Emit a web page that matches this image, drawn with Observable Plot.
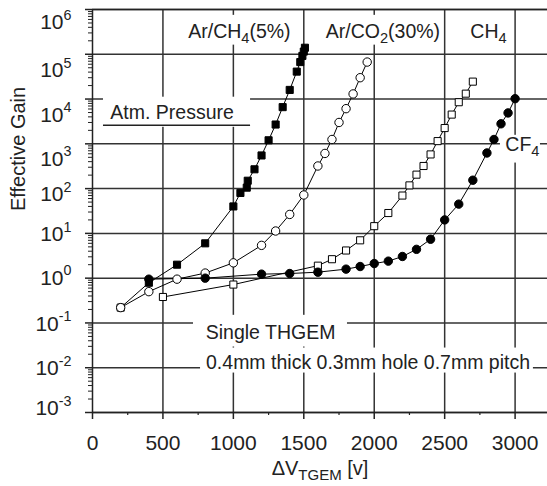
<!DOCTYPE html>
<html><head><meta charset="utf-8">
<script src="https://cdn.jsdelivr.net/npm/d3@7"></script>
<script src="https://cdn.jsdelivr.net/npm/@observablehq/plot@0.6"></script>
<style>
html,body{margin:0;padding:0;background:#fff}
</style>
</head><body><div id="chart"></div>
<script>
// ---- data (voltage [V], effective gain) ----
const startPoint = [[200, 0.22]];
const arCH4 = [[200,0.22],[400,0.79],[600,2.0],[800,6.0],[1000,40],[1050,80],[1095,105],[1102,150],[1150,270],[1200,550],[1250,1200],[1300,2700],[1350,6600],[1400,16000],[1450,41000],[1475,67000],[1490,92000],[1500,115000],[1508,140000]];
const arCO2 = [[200,0.22],[400,0.5],[600,0.95],[800,1.3],[1000,2.2],[1200,5.4],[1300,11.3],[1400,26.5],[1500,72],[1600,320],[1650,610],[1700,1250],[1750,3000],[1800,6100],[1850,13000],[1900,30000],[1950,67000]];
const ch4 = [[500,0.38],[1000,0.72],[1600,1.9],[1700,2.65],[1800,4.15],[1900,7.0],[2000,14.5],[2100,28.5],[2200,70],[2250,118],[2300,205],[2350,320],[2400,580],[2450,1150],[2500,2250],[2550,4500],[2600,8500],[2650,13200],[2700,24500]];
const cf4 = [[400,0.95],[800,1.0],[1200,1.23],[1400,1.27],[1600,1.36],[1800,1.59],[1900,1.82],[2000,2.12],[2100,2.4],[2200,3.05],[2300,4.4],[2400,7.4],[2500,20],[2600,45],[2700,154],[2800,625],[2850,1250],[2900,2800],[2950,4900],[3000,10200]];

// ---- ticks ----
const xTicks = [0,500,1000,1500,2000,2500,3000];
const xMinor = [250,750,1250,1750,2250,2750];
const xGrid = [500,1000,1500,2000,2500,3000];
const yTicks = [1e-3,1e-2,1e-1,1e0,1e1,1e2,1e3,1e4,1e5,1e6];
const yMinor = yTicks.slice(0,-1).flatMap(d => [2,3,4,5,6,7,8,9].map(k => d*k));
// vertical drift of the printed y tick labels in the original figure (px), by exponent
const yLabelDrift = {"6": 13, "5": 16, "4": 16, "3": 15, "2": 6, "1": 1, "0": 0, "-1": 1, "-2": 1, "-3": -4};

// ---- annotations ----
const labels = [
  {text: "Ar/CH_{4}(5%)", v: 1043, g: 3.2e5},
  {text: "Ar/CO_{2}(30%)", v: 2062, g: 3.2e5},
  {text: "CH_{4}", v: 2811, g: 3.2e5},
  {text: "CF_{4}", v: 3052, g: 930},
  {text: "Atm. Pressure", v: 565, g: 4900},
  {text: "Single THGEM", v: 1264, g: 0.059},
  {text: "0.4mm thick 0.3mm hole 0.7mm pitch", v: 1956, g: 0.0127}
];
const labelBoxes = [
  {v1: 660, v2: 1427, g1: 1.6e5, g2: 7.4e5},
  {v1: 1640, v2: 2480, g1: 1.6e5, g2: 7.4e5},
  {v1: 2662, v2: 2967, g1: 1.6e5, g2: 7.4e5},
  {v1: 2896, v2: 3180, g1: 372, g2: 1550},
  {v1: 78, v2: 1122, g1: 2340, g2: 11000},
  {v1: 717, v2: 1810, g1: 0.029, g2: 0.148},
  {v1: 767, v2: 3130, g1: 0.0076, g2: 0.0275}
];
const underline = [{v1: 78, v2: 1122, g: 2600}];

const ink = "#222";
const gridStyle = {stroke: "#333", strokeOpacity: 1, strokeWidth: 1.5};

const chart = Plot.plot({
  width: 547, height: 486,
  marginTop: 9, marginBottom: 74, marginLeft: 92, marginRight: 0,
  style: {fontFamily: "'Liberation Sans', Arial, sans-serif", fontSize: "21px", color: ink, background: "white", overflow: "visible"},
  x: {domain: [0, 3230]},
  y: {type: "log", domain: [1e-3, 1e6]},
  marks: [
    Plot.gridX(xGrid, gridStyle),
    Plot.gridY(yTicks, gridStyle),
    Plot.rect(labelBoxes, {x1: "v1", x2: "v2", y1: "g1", y2: "g2", fill: "white"}),
    Plot.ruleY(underline, {y: "g", x1: "v1", x2: "v2", stroke: ink, strokeWidth: 1.5}),
    Plot.ruleX([0], {stroke: ink, strokeWidth: 1.5}),
    Plot.ruleY([1e-3, 1e6], {stroke: ink, strokeWidth: 1.5}),
    Plot.axisX(xMinor, {tickSize: 3, tickFormat: () => "", label: null, strokeWidth: 1.2}),
    Plot.axisX(xTicks, {tickSize: 7, tickPadding: 16, tickFormat: d => String(d), label: null, fontSize: 21, strokeWidth: 1.5}),
    Plot.axisY(yMinor, {tickSize: 4, tickFormat: () => "", label: null, strokeWidth: 1}),
    Plot.axisY(yTicks, {tickSize: 7, tickPadding: 14, tickFormat: d => "10^{" + Math.round(Math.log10(d)) + "}", label: null, fontSize: 21, strokeWidth: 1.5}),
    Plot.text(labels, {x: "v", y: "g", text: "text", fontSize: 19.5, fill: ink}),
    Plot.text(["Effective Gain"], {frameAnchor: "left", dx: -74, rotate: -90, fontSize: 20, fill: ink}),
    Plot.text(["ΔV_{TGEM} [v]"], {frameAnchor: "bottom", dy: 62, fontSize: 20, fill: ink}),
    // series
    Plot.line(arCH4, {x: d => d[0], y: d => d[1], stroke: "black", strokeWidth: 1}),
    Plot.line(arCO2, {x: d => d[0], y: d => d[1], stroke: "black", strokeWidth: 1}),
    Plot.line(ch4, {x: d => d[0], y: d => d[1], stroke: "black", strokeWidth: 1}),
    Plot.line(cf4, {x: d => d[0], y: d => d[1], stroke: "black", strokeWidth: 1}),
    Plot.dot(startPoint, {x: d => d[0], y: d => d[1], symbol: "square", r: 4, fill: "white", stroke: "black", strokeWidth: 1}),
    Plot.dot(arCH4.slice(1), {x: d => d[0], y: d => d[1], symbol: "square", r: 4, fill: "black", stroke: "black", strokeWidth: 1}),
    Plot.dot(ch4, {x: d => d[0], y: d => d[1], symbol: "square", r: 4, fill: "white", stroke: "black", strokeWidth: 1}),
    Plot.dot(arCO2, {x: d => d[0], y: d => d[1], symbol: "circle", r: 4.2, fill: "white", stroke: "black", strokeWidth: 1}),
    Plot.dot(cf4, {x: d => d[0], y: d => d[1], symbol: "circle", r: 4.2, fill: "black", stroke: "black", strokeWidth: 1})
  ]
});
document.getElementById("chart").appendChild(chart);

// sub/superscript rendering: "_{..}" and "^{..}"
function richify(svg) {
  svg.querySelectorAll("text").forEach(t => {
    const s = t.textContent;
    if (!/[_^]\{/.test(s)) return;
    const fs = parseFloat(getComputedStyle(t).fontSize) || 20;
    const parts = [];
    const re = /([_^])\{([^}]*)\}/g;
    let last = 0, m;
    while ((m = re.exec(s))) {
      if (m.index > last) parts.push({t: s.slice(last, m.index), k: "n"});
      parts.push({t: m[2], k: m[1] === "_" ? "sub" : "sup"});
      last = re.lastIndex;
    }
    if (last < s.length) parts.push({t: s.slice(last), k: "n"});
    // y tick labels keep the drift of the original print
    let base = 0;
    const sup = parts.find(p => p.k === "sup");
    if (sup && parts[0].t === "10" && yLabelDrift[sup.t] !== undefined) base = yLabelDrift[sup.t];
    while (t.firstChild) t.removeChild(t.firstChild);
    let shift = 0;
    const ns = "http://www.w3.org/2000/svg";
    parts.forEach(p => {
      const ts = document.createElementNS(ns, "tspan");
      ts.textContent = p.t;
      const target = base + (p.k === "sub" ? fs * 0.25 : p.k === "sup" ? -fs * 0.45 : 0);
      const dy = target - shift;
      if (dy !== 0) ts.setAttribute("dy", dy.toFixed(2));
      shift = target;
      if (p.k !== "n") ts.setAttribute("font-size", (fs * (p.k === "sub" ? 0.75 : 0.68)).toFixed(1));
      t.appendChild(ts);
    });
  });
}
richify(chart);
</script>
</body></html>
